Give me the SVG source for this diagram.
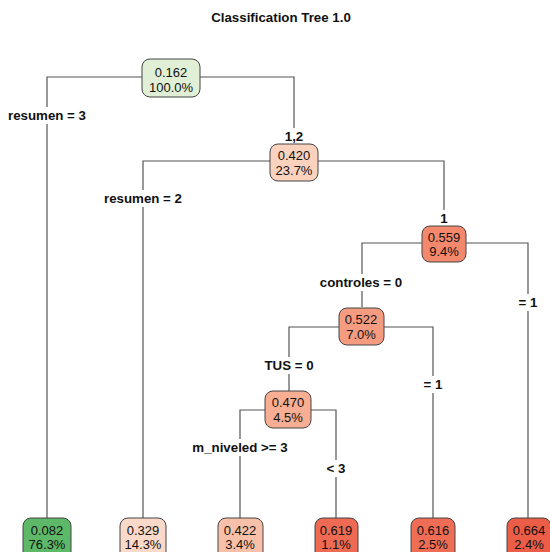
<svg xmlns="http://www.w3.org/2000/svg" width="550" height="552" viewBox="0 0 550 552">
<style>
text{font-family:"Liberation Sans",Arial,sans-serif;font-size:13px;fill:#111;text-anchor:middle}
.t{font-weight:bold;font-size:13.3px}
.lb{font-weight:bold;font-size:13.3px}
.bg{fill:#fff}
.box{stroke:#444;stroke-width:1}
#edges path{fill:none;stroke:#555;stroke-width:1.2}
</style>
<rect width="550" height="552" fill="#fff"/>
<text class="t" x="281" y="22">Classification Tree 1.0</text>
<g id="edges">
<path d="M142,77H47V518M200,77H294V145"/>
<path d="M270,161H143V518M318,161H444V226"/>
<path d="M422,243H362V307M466,243H528V518"/>
<path d="M339,327H289V391M384,327H433V518"/>
<path d="M265,410H240V518M311,410H336V518"/>
</g>
<g id="labels">
<rect class="bg" x="4" y="107" width="86" height="17"/><text class="lb" x="47" y="120">resumen = 3</text>
<rect class="bg" x="281" y="128" width="26" height="17"/><text class="lb" x="294" y="141">1,2</text>
<rect class="bg" x="100" y="190" width="86" height="17"/><text class="lb" x="143" y="203">resumen = 2</text>
<rect class="bg" x="436" y="210" width="16" height="17"/><text class="lb" x="444" y="223">1</text>
<rect class="bg" x="312" y="274" width="100" height="17"/><text class="lb" x="361" y="287">controles = 0</text>
<rect class="bg" x="514" y="294" width="28" height="17"/><text class="lb" x="528" y="307">= 1</text>
<rect class="bg" x="259" y="357" width="60" height="17"/><text class="lb" x="289" y="370">TUS = 0</text>
<rect class="bg" x="419" y="376" width="28" height="17"/><text class="lb" x="433" y="389">= 1</text>
<rect class="bg" x="186" y="439" width="108" height="17"/><text class="lb" x="240" y="452">m_niveled &gt;= 3</text>
<rect class="bg" x="322" y="460" width="28" height="17"/><text class="lb" x="336" y="473">&lt; 3</text>
</g>
<g id="n1"><rect class="box" x="142" y="59" width="58" height="38" rx="8" fill="#e0efd6"/><text x="171" y="77">0.162</text><text x="171" y="92">100.0%</text></g>
<g id="n2"><rect class="box" x="270" y="144" width="48" height="37" rx="8" fill="#fbd2be"/><text x="294" y="160">0.420</text><text x="294" y="175">23.7%</text></g>
<g id="n3"><rect class="box" x="422" y="226" width="44" height="36" rx="8" fill="#f4886c"/><text x="444" y="242">0.559</text><text x="444" y="256">9.4%</text></g>
<g id="n4"><rect class="box" x="339" y="308" width="45" height="37" rx="8" fill="#f59c80"/><text x="361" y="324">0.522</text><text x="361" y="339">7.0%</text></g>
<g id="n5"><rect class="box" x="265" y="391" width="46" height="37" rx="8" fill="#f7ae93"/><text x="288" y="407">0.470</text><text x="288" y="422">4.5%</text></g>
<g id="l1"><rect class="box" x="23" y="518" width="48" height="42" rx="8" fill="#5db868"/><text x="47" y="535">0.082</text><text x="47" y="549">76.3%</text></g>
<g id="l2"><rect class="box" x="120" y="518" width="46" height="42" rx="8" fill="#fbd9c9"/><text x="143" y="535">0.329</text><text x="143" y="549">14.3%</text></g>
<g id="l3"><rect class="box" x="218" y="518" width="45" height="42" rx="8" fill="#f8c0a8"/><text x="240" y="535">0.422</text><text x="240" y="549">3.4%</text></g>
<g id="l4"><rect class="box" x="315" y="518" width="43" height="42" rx="8" fill="#ee6a52"/><text x="336" y="535">0.619</text><text x="336" y="549">1.1%</text></g>
<g id="l5"><rect class="box" x="411" y="518" width="44" height="42" rx="8" fill="#ef6d55"/><text x="433" y="535">0.616</text><text x="433" y="549">2.5%</text></g>
<g id="l6"><rect class="box" x="507" y="518" width="44" height="42" rx="8" fill="#ec5d47"/><text x="529" y="535">0.664</text><text x="529" y="549">2.4%</text></g>
</svg>
